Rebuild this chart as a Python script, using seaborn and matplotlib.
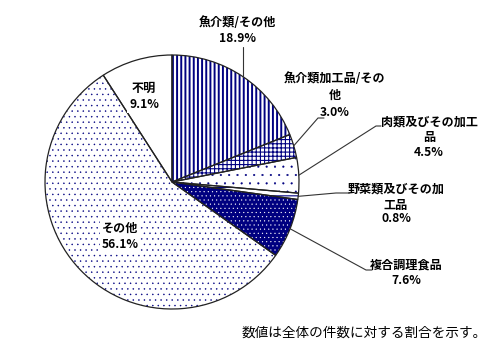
import numpy as np
import pandas as pd
import matplotlib
matplotlib.use('Agg')
import matplotlib.pyplot as plt
import seaborn as sns

# ---- data ----
categories = ['魚介類/その他', '魚介類加工品/その他', '肉類及びその加工品',
              '野菜類及びその加工品', '複合調理食品', 'その他', '不明']
values = [18.9, 3.0, 4.5, 0.8, 7.6, 56.1, 9.1]
label_lines = ['魚介類/その他', '魚介類加工品/その\n他', '肉類及びその加工\n品',
               '野菜類及びその加\n工品', '複合調理食品', 'その他', '不明']
pct_labels = [f'{v:.1f}%' for v in values]
footnote = '数値は全体の件数に対する割合を示す。'

sns.set_theme(style='white')
plt.rcParams['font.family'] = ['Noto Sans CJK JP', 'DejaVu Sans']
plt.rcParams['hatch.linewidth'] = 1.2

W, H = 493, 355
fig = plt.figure(figsize=(W / 100, H / 100), dpi=100)
ax = fig.add_axes([0, 0, 1, 1])

cx, cy, R = 172, H - 182, 127
navy = '#000080'
faces = ['white', 'white', 'white', 'white', navy, 'white', 'white']
hatches = ['||||', '++++', '..', '--', '....', '...', '']
hcolors = [navy, navy, navy, navy, 'white', navy, 'white']
hlw = [1.4, 0.8, 0.3, 0.8, 0.3, 0.3, 0.5]

df = pd.DataFrame({'category': categories, 'value': values})
wedges, _ = ax.pie(df['value'], startangle=90, counterclock=False,
                   center=(cx, cy), radius=R, colors=faces,
                   wedgeprops=dict(linewidth=0))
for w, h, hc, lw in zip(wedges, hatches, hcolors, hlw):
    w.set_hatch(h)
    w.set_edgecolor(hc)
    w.set_linewidth(0)
    if hasattr(w, 'set_hatch_linewidth'):
        w.set_hatch_linewidth(lw)
ax.pie(df['value'], startangle=90, counterclock=False, center=(cx, cy),
       radius=R, wedgeprops=dict(fill=False, edgecolor='#222222', linewidth=0.9))

# leader lines from wedge mid-angles
fr = np.array(values) / np.sum(values)
mid = np.cumsum(fr) - fr / 2
ang = np.deg2rad(90 - mid * 360)
ex = cx + R * np.cos(ang)
ey = cy + R * np.sin(ang)

leader_pts = {
    0: [(None, 47)],
    1: [(318, 118), (324, 118)],
    2: [(376, 126), (381, 126)],
    3: [(336, 193), (349, 193)],
    4: [(366, 270), (372, 270)],
}
for i, pts in leader_pts.items():
    xs = [ex[i]]
    ys = [ey[i]]
    for (px, py) in pts:
        xs.append(ex[i] if px is None else px)
        ys.append(H - py)
    ax.plot(xs, ys, color='#333333', lw=0.8)

layouts = [
    (237, [23], 39),
    (335, [79, 95], 113),
    (429, [122, 137], 152),
    (396, [189, 205], 219),
    (406, [265], 281),
    (120, [229], 244),
    (144, [88], 105),
]
inside = [False, False, False, False, False, True, True]
for lab, pct, (x, ys, py), ins in zip(label_lines, pct_labels, layouts, inside):
    if ins:
        y0 = ys[0]
        ax.text(x, H - (y0 + py) / 2, lab + '\n' + pct, ha='center',
                va='center', fontsize=8.7, fontweight='bold', color='black',
                linespacing=1.35,
                bbox=dict(boxstyle='square,pad=0.15', facecolor='white',
                          edgecolor='none'))
        continue
    for line, y in zip(lab.split('\n'), ys):
        ax.text(x, H - y, line, ha='center', va='center', fontsize=8.7,
                fontweight='bold', color='black')
    ax.text(x, H - py, pct, ha='center', va='center', fontsize=8.7,
            fontweight='bold', color='black')

ax.text(487, H - 333, footnote, ha='right', va='center', fontsize=9.8,
        color='black')

ax.set_xlim(0, W)
ax.set_ylim(0, H)
ax.set_aspect('auto')
ax.axis('off')
fig.savefig('out.png', dpi=100, facecolor='white')
